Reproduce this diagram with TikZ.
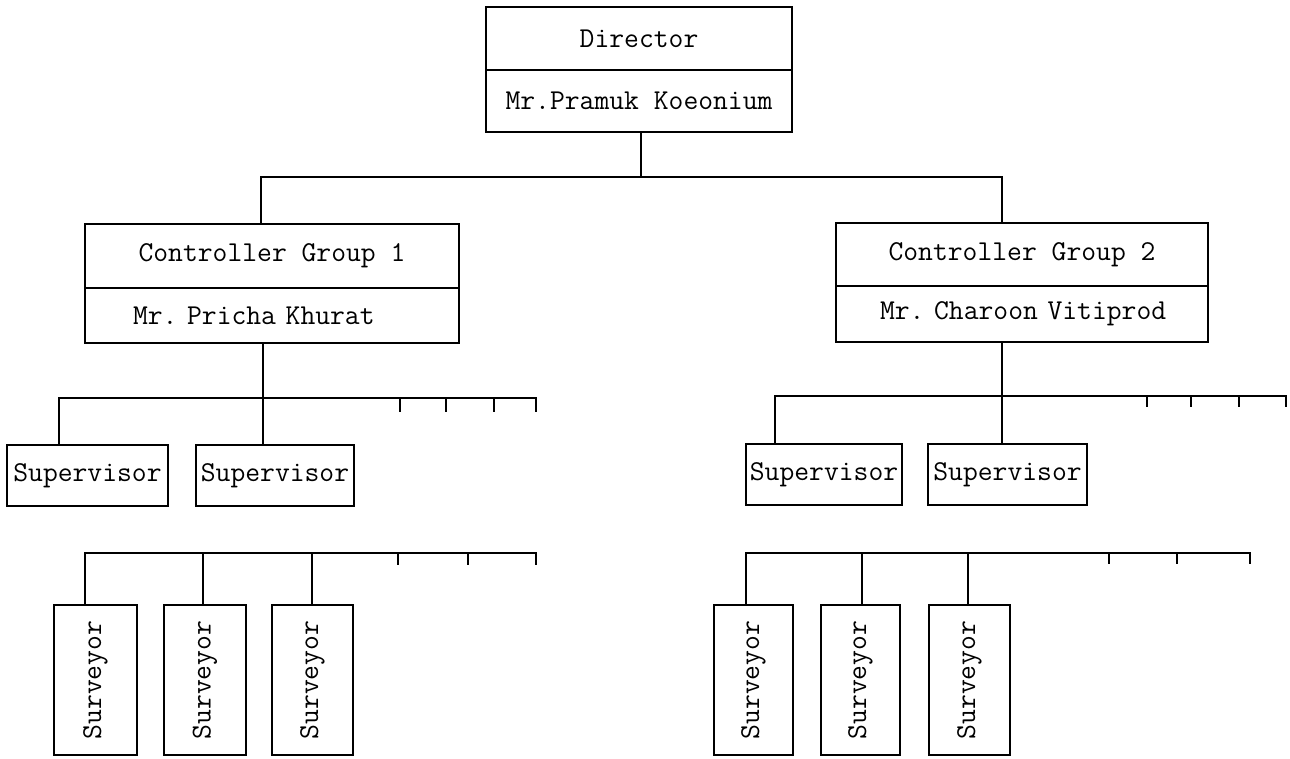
\documentclass[tikz,border=0pt]{standalone}
\begin{document}
\frenchspacing
\begin{tikzpicture}[x=0.5pt,y=-0.5pt,
  box/.style={draw, line width=1pt, inner sep=0pt, outer sep=0pt, anchor=north west,
              font=\fontsize{14.4}{17}\selectfont\ttfamily\frenchspacing},
  vbox/.style={box, anchor=center, rotate=90, minimum width=75pt},
  conn/.style={line width=1.2pt, line cap=rect}]
\useasboundingbox (0,0) rectangle (1290,759);
\fill[white] (0,0) rectangle (1290,759);

% Director
\node[box, minimum width=153pt, minimum height=31.5pt] (dirT) at (486,7) {Director};
\node[box, minimum width=153pt, minimum height=31pt] (dirB) at (486,70) {Mr.Pramuk Koeonium};

% Controllers
\node[box, minimum width=187pt, minimum height=32pt] (c1T) at (85,224) {Controller Group 1};
\node[box, minimum width=187pt, minimum height=27.5pt, text width=187pt, align=left] (c1B) at (85,288) {\hspace*{24pt}Mr. Pricha Khurat};
\node[box, minimum width=186pt, minimum height=31.5pt] (c2T) at (836,223) {Controller Group 2};
\node[box, minimum width=186pt, minimum height=28pt, text width=186pt, align=left] (c2B) at (836,286) {\hspace*{22pt}Mr. Charoon Vitiprod};

% Supervisors
\node[box, minimum width=80.5pt, minimum height=30.5pt] (sa) at (7,445) {Supervisor};
\node[box, minimum width=79pt, minimum height=30.5pt] (sb) at (196,445) {Supervisor};
\node[box, minimum width=78pt, minimum height=30.5pt] (sc) at (746,444) {Supervisor};
\node[box, minimum width=79.5pt, minimum height=30.5pt] (sd) at (928,444) {Supervisor};

% Surveyors
\node[vbox, minimum height=41.5pt] (ua) at (95.5,680) {Surveyor};
\node[vbox, minimum height=41pt] (ub) at (205,680) {Surveyor};
\node[vbox, minimum height=40.5pt] (uc) at (312.5,680) {Surveyor};
\node[vbox, minimum height=39.5pt] (ud) at (753.5,680) {Surveyor};
\node[vbox, minimum height=39.5pt] (ue) at (860.5,680) {Surveyor};
\node[vbox, minimum height=40.5pt] (uf) at (969.5,680) {Surveyor};

% Director to controllers
\coordinate (top0) at (641,177);
\coordinate (topL) at (261,177);
\coordinate (topR) at (1002,177);
\draw[conn] (dirB.south -| top0) -- (top0);
\draw[conn] (c1T.north -| topL) |- (topR) -- (c2T.north -| topR);

% Controller 1 to supervisors
\coordinate (sbL) at (59,398);
\coordinate (sbM) at (263,398);
\coordinate (sbE) at (536,398);
\draw[conn] (sa.north -| sbL) -- (sbL) -- (sbE);
\draw[conn] (c1B.south -| sbM) -- (sb.north -| sbM);
\foreach \x in {400,446,494,536} \draw[conn] (\x,398) -- (\x,411);

% Controller 2 to supervisors
\coordinate (scL) at (775,396);
\coordinate (scM) at (1002,396);
\coordinate (scE) at (1286,396);
\draw[conn] (sc.north -| scL) -- (scL) -- (scE);
\draw[conn] (c2B.south -| scM) -- (sd.north -| scM);
\foreach \x in {1147,1191,1239,1286} \draw[conn] (\x,396) -- (\x,406);

% Surveyors left
\coordinate (ulA) at (85,553);
\coordinate (ulB) at (203,553);
\coordinate (ulC) at (312,553);
\coordinate (ulE) at (536,553);
\draw[conn] (ua.east -| ulA) -- (ulA) -- (ulE);
\draw[conn] (ulB) -- (ub.east -| ulB);
\draw[conn] (ulC) -- (uc.east -| ulC);
\foreach \x in {398,468,536} \draw[conn] (\x,553) -- (\x,564);

% Surveyors right
\coordinate (urA) at (746,553);
\coordinate (urB) at (862,553);
\coordinate (urC) at (968,553);
\coordinate (urE) at (1250,553);
\draw[conn] (ud.east -| urA) -- (urA) -- (urE);
\draw[conn] (urB) -- (ue.east -| urB);
\draw[conn] (urC) -- (uf.east -| urC);
\foreach \x in {1109,1177,1250} \draw[conn] (\x,553) -- (\x,563);
\end{tikzpicture}
\end{document}
